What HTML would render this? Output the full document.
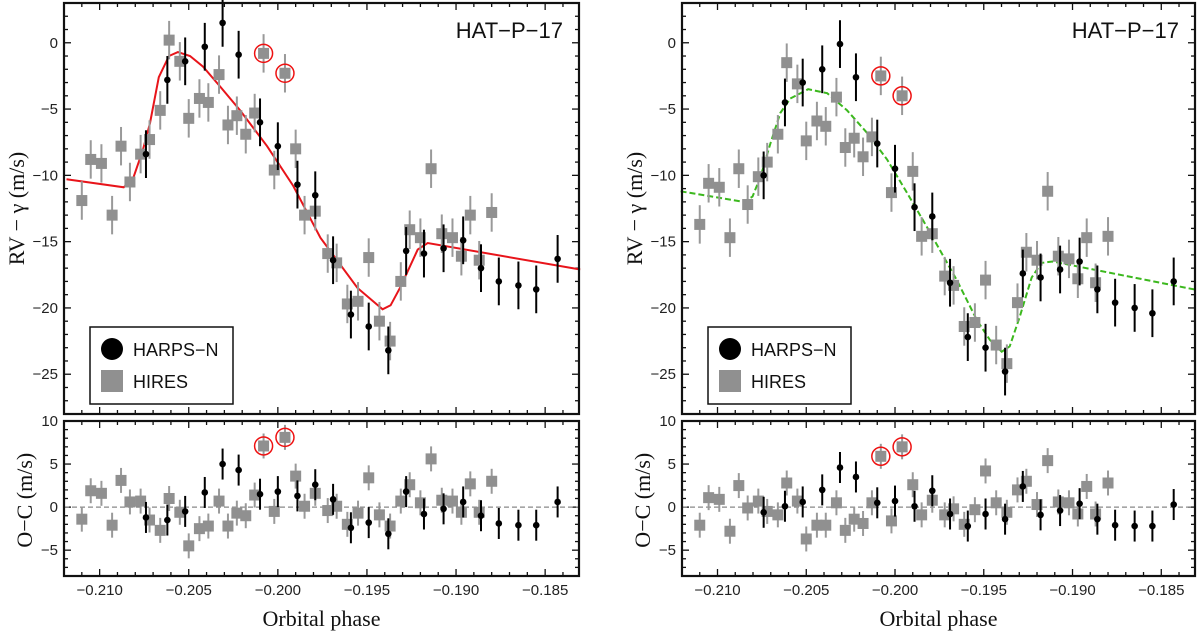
<!DOCTYPE html>
<html><head><meta charset="utf-8">
<style>
html,body{margin:0;padding:0;background:#fff;}
svg{display:block;}
.tk{font-family:"Liberation Sans",sans-serif;font-size:15px;fill:#222;}
.ser{font-family:"Liberation Serif",serif;font-size:22px;fill:#111;}
.lg{font-family:"Liberation Sans",sans-serif;font-size:18px;fill:#111;}
</style></head>
<body>
<svg id="chart" width="1200" height="634" viewBox="0 0 1200 634" xmlns="http://www.w3.org/2000/svg"></svg>
<script>
// ---- data ----
const hiresPhase = [-0.2110,-0.2105,-0.2099,-0.2093,-0.2088,-0.2083,-0.2077,-0.2072,-0.2066,-0.2061,-0.2055,-0.2050,-0.2044,-0.2039,-0.2033,-0.2028,-0.2023,-0.2018,-0.2013,-0.2008,-0.1996,-0.2002,-0.1990,-0.1985,-0.1979,-0.1972,-0.1967,-0.1961,-0.1955,-0.1949,-0.1943,-0.1937,-0.1931,-0.1926,-0.1920,-0.1914,-0.1908,-0.1902,-0.1897,-0.1892,-0.1887,-0.1880];
const hiresRvLeft = [-11.9,-8.8,-9.1,-13.0,-7.8,-10.5,-8.4,-7.3,-5.1,0.2,-1.4,-5.7,-4.2,-4.5,-2.4,-6.2,-5.5,-6.9,-5.3,-0.8,-2.3,-9.6,-8.0,-13.0,-12.7,-15.9,-16.6,-19.7,-19.5,-16.2,-21.0,-22.5,-18.0,-14.1,-14.7,-9.5,-14.4,-14.7,-16.1,-13.0,-16.4,-12.8];
const hiresRvRight = [-13.7,-10.6,-10.9,-14.7,-9.5,-12.2,-10.1,-9.0,-6.9,-1.5,-3.1,-7.4,-5.9,-6.3,-4.1,-7.9,-7.2,-8.6,-7.1,-2.5,-4.0,-11.3,-9.7,-14.6,-14.4,-17.6,-18.3,-21.4,-21.1,-17.9,-22.8,-24.2,-19.6,-15.8,-16.4,-11.2,-16.1,-16.3,-17.8,-14.7,-18.1,-14.6];
const hiresOcLeft = [-1.4,1.9,1.6,-2.1,3.1,0.6,0.7,-1.5,-2.7,1.0,-0.6,-4.5,-2.5,-2.2,0.7,-2.2,-0.7,-1.0,1.4,7.1,8.1,-0.5,3.6,0.1,1.6,-0.4,0.1,-2.0,-0.7,3.4,-0.9,-2.2,0.7,2.6,0.5,5.6,0.8,0.7,-0.6,2.7,-0.6,3.0];
const hiresOcRight = [-2.1,1.1,0.9,-2.8,2.5,-0.1,0.7,-0.5,-0.9,2.8,0.7,-3.7,-2.1,-2.1,0.5,-2.7,-1.4,-1.9,0.5,5.9,7.0,-1.6,2.6,-0.9,0.8,-0.9,-0.2,-2.0,-0.3,4.2,0.5,-0.6,2.0,3.0,0.3,5.4,0.6,0.5,-0.8,2.4,-0.8,2.8];
const hiresErr = 1.45;
const harpsPhase = [-0.2074,-0.2062,-0.2052,-0.2041,-0.2031,-0.2022,-0.2010,-0.2000,-0.1989,-0.1979,-0.1969,-0.1959,-0.1949,-0.1938,-0.1928,-0.1918,-0.1907,-0.1896,-0.1886,-0.1876,-0.1865,-0.1855,-0.1843];
const harpsRvLeft = [-8.4,-2.8,-1.4,-0.3,1.5,-0.9,-6.0,-7.8,-10.7,-11.5,-16.4,-20.5,-21.4,-23.2,-15.7,-15.9,-15.5,-14.9,-17.0,-18.0,-18.3,-18.6,-16.3];
const harpsRvRight = [-10.0,-4.5,-3.0,-2.0,-0.1,-2.6,-7.6,-9.5,-12.4,-13.1,-18.1,-22.2,-23.0,-24.8,-17.4,-17.7,-17.1,-16.5,-18.6,-19.6,-20.0,-20.4,-18.0];
const harpsOcLeft = [-1.2,-1.5,-0.5,1.7,5.0,4.3,1.5,1.8,1.3,2.6,0.9,-2.4,-1.8,-3.1,1.8,-0.8,-0.2,0.6,-1.0,-1.9,-2.1,-2.1,0.6];
const harpsOcRight = [-0.6,0.1,0.6,2.0,4.6,3.5,0.5,0.7,0.1,1.9,-0.8,-2.2,-0.8,-1.4,2.4,-0.9,-0.4,0.4,-1.4,-2.1,-2.2,-2.2,0.3];
const harpsErr = 1.8;
const circledIdx = [19, 20];
const modelPhaseLeft = [-0.21186,-0.20865,-0.20814,-0.20758,-0.20718,-0.20668,-0.20611,-0.20561,-0.20493,-0.20420,-0.20324,-0.20212,-0.20060,-0.19913,-0.19761,-0.19553,-0.19412,-0.19367,-0.19311,-0.19215,-0.19159,-0.18303];
const modelRvLeft = [-10.3,-10.9,-10.3,-8.1,-6.1,-2.6,-1.0,-0.7,-1.0,-1.8,-3.3,-5.1,-7.8,-10.8,-14.7,-18.5,-20.1,-19.8,-18.4,-15.6,-15.1,-17.1];
const modelPhaseRight = [-0.21208,-0.20854,-0.20803,-0.20758,-0.20702,-0.20646,-0.20590,-0.20489,-0.20382,-0.20270,-0.20157,-0.20045,-0.19933,-0.19820,-0.19652,-0.19539,-0.19466,-0.19399,-0.19354,-0.19298,-0.19230,-0.19174,-0.19112,-0.18315];
const modelRvRight = [-11.2,-12.0,-11.6,-10.1,-7.6,-5.3,-4.2,-3.5,-3.8,-5.1,-6.8,-8.8,-11.3,-13.9,-17.9,-20.9,-22.4,-23.3,-22.9,-20.7,-17.7,-16.6,-16.5,-18.6];
const xTicks = [-0.210,-0.205,-0.200,-0.195,-0.190,-0.185];
const xTickLabels = ["\u22120.210","\u22120.205","\u22120.200","\u22120.195","\u22120.190","\u22120.185"];
const rvTicks = [0,-5,-10,-15,-20,-25];
const rvTickLabels = ["0","\u22125","\u221210","\u221215","\u221220","\u221225"];
const ocTicks = [10,5,0,-5];
const ocTickLabels = ["10","5","0","\u22125"];

// ---- drawing ----
const NS = "http://www.w3.org/2000/svg";
const svg = document.getElementById("chart");
function mk(tag, attrs, parent) {
  const e = document.createElementNS(NS, tag);
  for (const k in attrs) e.setAttribute(k, attrs[k]);
  (parent || svg).appendChild(e);
  return e;
}
const XMIN = -0.2120, XMAX = -0.1831;
const TOP = {y0: 3, y1: 414, vmax: 3.0, vmin: -28.0};
const BOT = {y0: 421, y1: 576, vmax: 10.0, vmin: -8.0};

function panel(px0, px1, rvH, rvHa, ocH, ocHa, mPh, mRv, modelStyle, side) {
  const g = mk("g", {});
  
  
  const xs = p => px0 + (p - XMIN) / (XMAX - XMIN) * (px1 - px0);
  const ysT = v => TOP.y0 + (TOP.vmax - v) / (TOP.vmax - TOP.vmin) * (TOP.y1 - TOP.y0);
  const ysB = v => BOT.y0 + (BOT.vmax - v) / (BOT.vmax - BOT.vmin) * (BOT.y1 - BOT.y0);

  function ticksFor(ys, box, vmin, vmax, gp) {
    for (let t = -0.212; t <= -0.183 + 1e-9; t += 0.001) {
      const v = Math.round(t * 1000) / 1000;
      if (v < XMIN || v > XMAX) continue;
      const major = Math.abs(Math.round(v * 1000) % 5) === 0;
      const L = major ? 7 : 4, x = xs(v);
      mk("line", {x1: x, x2: x, y1: box.y1, y2: box.y1 - L, stroke: "#111", "stroke-width": 1.3}, gp);
      mk("line", {x1: x, x2: x, y1: box.y0, y2: box.y0 + L, stroke: "#111", "stroke-width": 1.3}, gp);
    }
    for (let v = Math.ceil(vmin); v <= Math.floor(vmax); v++) {
      const major = v % 5 === 0;
      const L = major ? 7 : 4, y = ys(v);
      mk("line", {x1: px0, x2: px0 + L, y1: y, y2: y, stroke: "#111", "stroke-width": 1.3}, gp);
      mk("line", {x1: px1, x2: px1 - L, y1: y, y2: y, stroke: "#111", "stroke-width": 1.3}, gp);
    }
  }
  ticksFor(ysT, TOP, TOP.vmin, TOP.vmax, g);
  ticksFor(ysB, BOT, BOT.vmin, BOT.vmax, g);

  rvTicks.forEach((v, i) => {
    const t = mk("text", {x: px0 - 6, y: ysT(v) + 5, "text-anchor": "end", class: "tk"}, g);
    t.textContent = rvTickLabels[i];
    
    
  });
  ocTicks.forEach((v, i) => {
    const t = mk("text", {x: px0 - 6, y: ysB(v) + 5, "text-anchor": "end", class: "tk"}, g);
    t.textContent = ocTickLabels[i];
    
    
  });
  xTicks.forEach((v, i) => {
    const t = mk("text", {x: xs(v), y: 595, "text-anchor": "middle", class: "tk"}, g);
    t.textContent = xTickLabels[i];
    
    
  });

  const z = mk("line", {x1: px0, x2: px1, y1: ysB(0), y2: ysB(0), stroke: "#888", "stroke-width": 1.2, "stroke-dasharray": "5,3"}, g);
  
  

  const d = mPh.map((p, i) => (i ? "L" : "M") + xs(p).toFixed(1) + "," + ysT(mRv[i]).toFixed(1)).join(" ");
  const m = mk("path", Object.assign({d: d, fill: "none"}, modelStyle), g);
  
  

  function hires(vals, ys, err) {
    hiresPhase.forEach((p, i) => {
      const x = xs(p), y = ys(vals[i]);
      const e1 = mk("line", {x1: x, x2: x, y1: ys(vals[i] + err), y2: ys(vals[i] - err), stroke: "#999", "stroke-width": 2}, g);
      
      
      const r = mk("rect", {x: x - 5.5, y: y - 5.5, width: 11, height: 11, fill: "#909090"}, g);
      
      
      if (circledIdx.includes(i)) {
        const c = mk("circle", {cx: x, cy: y, r: 9, fill: "none", stroke: "#e11", "stroke-width": 1.5}, g);
        
        
      }
    });
  }
  function harps(vals, ys, err) {
    harpsPhase.forEach((p, i) => {
      const x = xs(p), y = ys(vals[i]);
      const e1 = mk("line", {x1: x, x2: x, y1: ys(vals[i] + err), y2: ys(vals[i] - err), stroke: "#000", "stroke-width": 2}, g);
      
      
      const c = mk("circle", {cx: x, cy: y, r: 3.3, fill: "#000"}, g);
      
      
    });
  }
  hires(rvH, ysT, hiresErr);
  harps(rvHa, ysT, harpsErr);
  hires(ocH, ysB, hiresErr);
  harps(ocHa, ysB, harpsErr);

  const f1 = mk("rect", {x: px0, y: TOP.y0, width: px1 - px0, height: TOP.y1 - TOP.y0, fill: "none", stroke: "#111", "stroke-width": 2.2}, g);
  
  
  const f2 = mk("rect", {x: px0, y: BOT.y0, width: px1 - px0, height: BOT.y1 - BOT.y0, fill: "none", stroke: "#111", "stroke-width": 2.2}, g);
  
  

  const ti = mk("text", {x: px1 - 16, y: 38, "text-anchor": "end", class: "lg", style: "font-size:22px"}, g);
  ti.textContent = "HAT\u2212P\u221217";
  
  

  const lgX = px0 + 26;
  const lg = mk("g", {}, g);
  
  
  mk("rect", {x: lgX, y: 327, width: 143, height: 77, fill: "#fff", stroke: "#111", "stroke-width": 1.5}, lg);
  const lc = mk("circle", {cx: lgX + 22, cy: 349, r: 11, fill: "#000"}, lg);
  
  
  const lt1 = mk("text", {x: lgX + 43, y: 356, class: "lg"}, lg);
  lt1.textContent = "HARPS\u2212N";
  
  
  const ls = mk("rect", {x: lgX + 11, y: 370, width: 22, height: 22, fill: "#909090"}, lg);
  
  
  const lt2 = mk("text", {x: lgX + 43, y: 388, class: "lg"}, lg);
  lt2.textContent = "HIRES";
  
  

  const cx1 = px0 - 40;
  const a1 = mk("text", {x: cx1, y: ysT(-12.5), "text-anchor": "middle", class: "ser", transform: "rotate(-90 " + cx1 + " " + ysT(-12.5) + ")"}, g);
  a1.textContent = "RV \u2212 \u03b3 (m/s)";
  
  
  const cx2 = px0 - 32;
  const yb = ysB(0.8);
  const a2 = mk("text", {x: cx2, y: yb, "text-anchor": "middle", class: "ser", transform: "rotate(-90 " + cx2 + " " + yb + ")"}, g);
  a2.textContent = "O\u2212C (m/s)";
  
  
  const a3 = mk("text", {x: (px0 + px1) / 2, y: 626, "text-anchor": "middle", class: "ser"}, g);
  a3.textContent = "Orbital phase";
  
  
}

panel(64, 579, hiresRvLeft, harpsRvLeft, hiresOcLeft, harpsOcLeft, modelPhaseLeft, modelRvLeft,
  {stroke: "#e8141a", "stroke-width": 2}, "left");
panel(682, 1195, hiresRvRight, harpsRvRight, hiresOcRight, harpsOcRight, modelPhaseRight, modelRvRight,
  {stroke: "#3cb81e", "stroke-width": 2, "stroke-dasharray": "6,3"}, "right");
</script>
</body></html>
